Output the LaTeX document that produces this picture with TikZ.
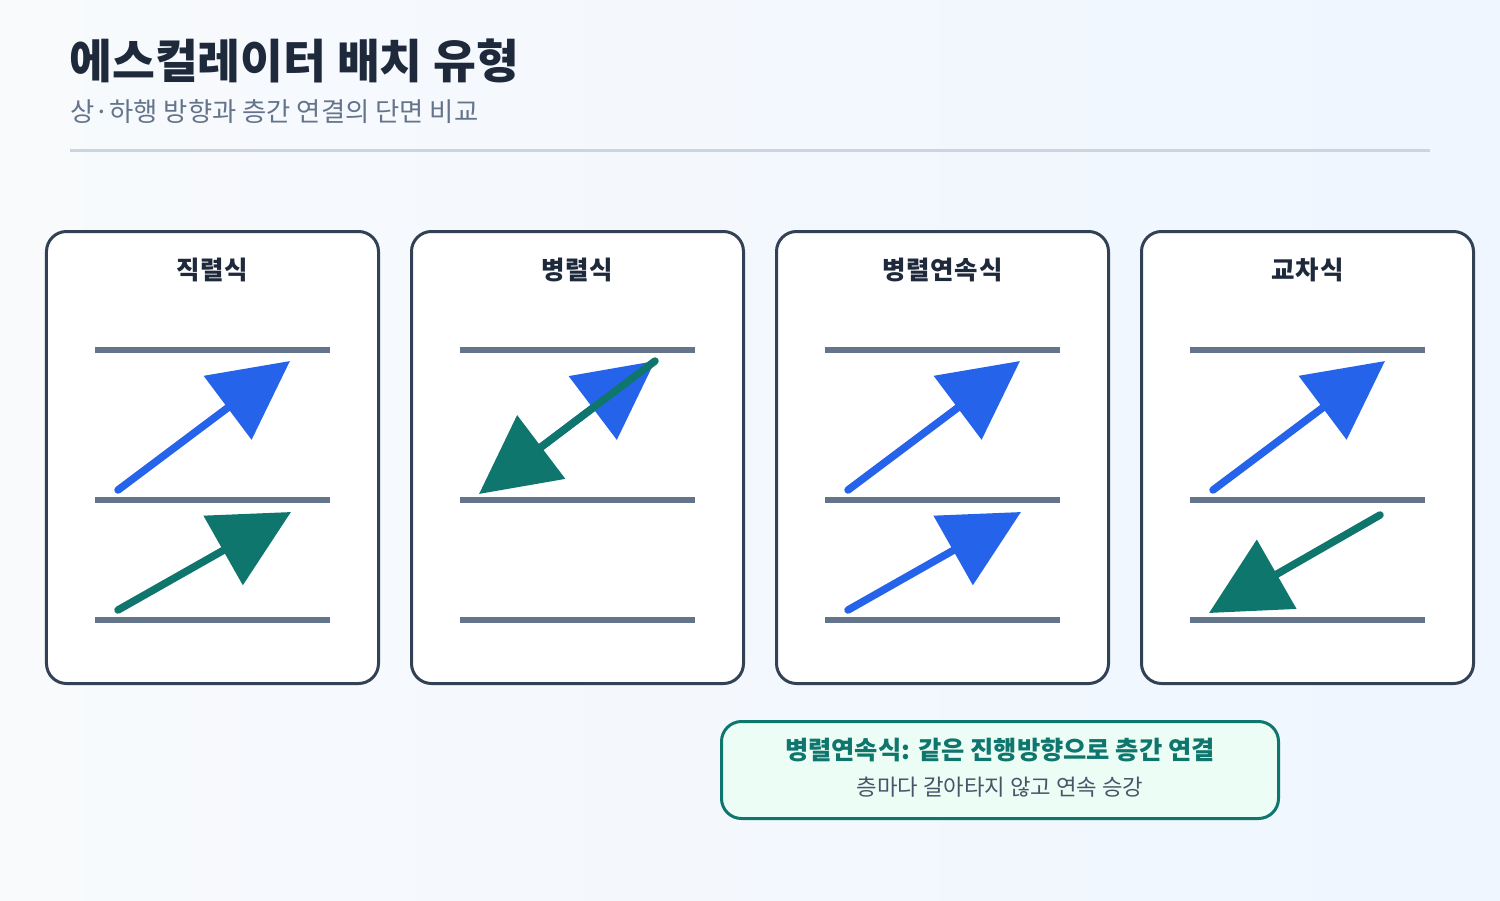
\documentclass[tikz,border=0pt]{standalone}
\usepackage{fontspec}
\setmainfont{Noto Sans CJK KR}
\usetikzlibrary{arrows.meta, positioning}

\definecolor{bgtop}{HTML}{F8FAFC}
\definecolor{bgbottom}{HTML}{EFF6FF}
\definecolor{inkdark}{HTML}{1E293B}
\definecolor{inkgray}{HTML}{64748B}
\definecolor{inkmid}{HTML}{475569}
\definecolor{rulegray}{HTML}{CBD5E1}
\definecolor{panelline}{HTML}{334155}
\definecolor{floorgray}{HTML}{64748B}
\definecolor{runblue}{HTML}{2563EB}
\definecolor{runteal}{HTML}{0F766E}
\definecolor{notefill}{HTML}{ECFDF5}

\begin{document}
\begin{tikzpicture}[x=0.2mm, y=-0.2mm,
    panel/.style={draw=panelline, line width=0.6mm, fill=white, rounded corners=4mm,
        minimum width=66.4mm, minimum height=90.4mm, inner sep=0pt},
    paneltitle/.style={font=\bfseries\fontsize{14.5}{17}\selectfont\addfontfeatures{LetterSpace=3},
        text=inkdark, inner sep=0pt},
    floor/.style={draw=floorgray, line width=1.2mm},
    bluerun/.style={draw=runblue, line width=1.5mm, line cap=round,
        -{Triangle[length=15.6mm, width=15.6mm, fill=runblue]}},
    tealrun/.style={draw=runteal, line width=1.5mm, line cap=round,
        -{Triangle[length=15.6mm, width=15.6mm, fill=runteal]}},
    note/.style={draw=runteal, line width=0.6mm, fill=notefill, rounded corners=4mm,
        minimum width=111.4mm, minimum height=19.4mm, inner sep=0pt}]
    % background and bounding box
    \useasboundingbox (0,0) rectangle (1500,900);
    \fill[left color=bgtop, right color=bgbottom] (0,0) rectangle (1500,900);

    % heading
    \node[anchor=west, inner sep=0pt, text=inkdark, font=\bfseries\fontsize{26.5}{30}\selectfont]
        (title) at (69,61) {에스컬레이터 배치 유형};
    \node[anchor=west, inner sep=0pt, text=inkgray, font=\fontsize{15}{18}\selectfont]
        (subtitle) at (70,112) {상·하행 방향과 층간 연결의 단면 비교};
    \draw[rulegray, line width=0.6mm] (70,150) -- (1430,150);

    % panels
    \node[panel] (p1) at (212.5,457.5) {};
    \node[panel] (p2) at (577.5,457.5) {};
    \node[panel] (p3) at (942.5,457.5) {};
    \node[panel] (p4) at (1307.5,457.5) {};
    \node[paneltitle] (t1) at (212.5,270) {직렬식};
    \node[paneltitle] (t2) at (577.5,270) {병렬식};
    \node[paneltitle] (t3) at (942.5,270) {병렬연속식};
    \node[paneltitle] (t4) at (1307.5,270) {교차식};

    % floor slabs
    \foreach \cx in {212.5,577.5,942.5,1307.5}
        \foreach \fy in {350,500,620}
            \draw[floor] (\cx-117.5,\fy) -- (\cx+117.5,\fy);

    % escalator runs
    \coordinate (a1s) at (118,490);
    \coordinate (a1e) at (290,361);
    \coordinate (b1s) at (118,610);
    \coordinate (b1e) at (291,512);
    \coordinate (a2s) at (479,494);
    \coordinate (a2b) at (500,478);
    \coordinate (a2e) at (655,361);
    \coordinate (a3s) at (848,490);
    \coordinate (a3e) at (1020,361);
    \coordinate (b3s) at (848,610);
    \coordinate (b3e) at (1021,512);
    \coordinate (a4s) at (1213,490);
    \coordinate (a4e) at (1385,361);
    \coordinate (b4s) at (1380,515);
    \coordinate (b4e) at (1209,613);
    \draw[bluerun] (a1s) -- (a1e);
    \draw[tealrun] (b1s) -- (b1e);
    \draw[bluerun] (a2b) -- (a2e);
    \draw[tealrun] (a2e) -- (a2s);
    \draw[bluerun] (a3s) -- (a3e);
    \draw[bluerun] (b3s) -- (b3e);
    \draw[bluerun] (a4s) -- (a4e);
    \draw[tealrun] (b4s) -- (b4e);

    % callout
    \node[note] (callout) at (1000,770) {};
    \node[inner sep=0pt, text=runteal, font=\bfseries\fontsize{14.4}{17}\selectfont]
        (callhead) at (1000,750) {병렬연속식: 같은 진행방향으로 층간 연결};
    \node[inner sep=0pt, text=inkmid, font=\fontsize{12.7}{15}\selectfont]
        (calltext) at (1000,787) {층마다 갈아타지 않고 연속 승강};
\end{tikzpicture}
\end{document}
